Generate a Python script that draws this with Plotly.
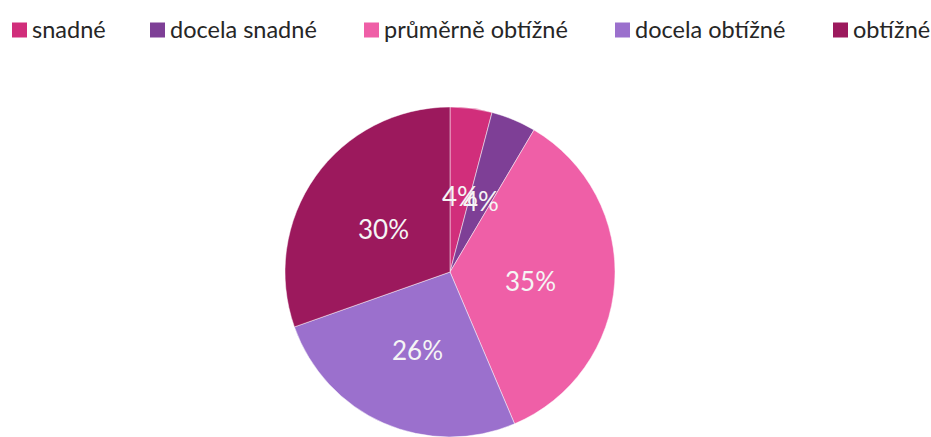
import math
import plotly.graph_objects as go

# ---- data ----
categories = ["snadné", "docela snadné", "průměrně obtížné", "docela obtížné", "obtížné"]
values = [4.1, 4.4, 35.1, 26.0, 30.4]
colors = ["#D12E7B", "#7E3F96", "#EF5FA7", "#9B70CD", "#9C195D"]

# ---- layout constants ----
W, H = 931, 437
CX, CY, R = 450, 272, 165
FONT = "Lato"
legend_sq_x = [12, 150, 364, 615, 833]
SQ = 15
LEG_Y = 30
LABEL_DY = 4

fig = go.Figure()
fig.add_trace(go.Pie(
    labels=categories, values=values, sort=False, direction="clockwise", rotation=0,
    marker=dict(colors=colors, line=dict(color="rgba(255,255,255,0.6)", width=0.8)),
    textinfo="none", hoverinfo="label+percent", showlegend=False,
    domain=dict(x=[(CX - R) / W, (CX + R) / W], y=[(H - CY - R) / H, (H - CY + R) / H]),
))

annotations = []
shapes = []
total = sum(values)
cum = 0.0
for v in values:
    mid = (cum + v / 2) / total * 2 * math.pi
    cum += v
    px = CX + 0.49 * R * math.sin(mid)
    py = CY + LABEL_DY - 0.49 * R * math.cos(mid)
    annotations.append(dict(
        x=px / W, y=1 - py / H, xref="paper", yref="paper", showarrow=False,
        text=f"{round(v / total * 100)}%", font=dict(family=FONT, size=26, color="#F5F5F5"),
        xanchor="center", yanchor="middle"))

for name, col, sx in zip(categories, colors, legend_sq_x):
    shapes.append(dict(type="rect", xref="paper", yref="paper",
                       x0=sx / W, x1=(sx + SQ) / W,
                       y0=1 - (LEG_Y + SQ / 2) / H, y1=1 - (LEG_Y - SQ / 2) / H,
                       fillcolor=col, line=dict(width=0)))
    annotations.append(dict(
        x=(sx + SQ + 3) / W, y=1 - (LEG_Y - 1) / H, xref="paper", yref="paper",
        showarrow=False, text=name, xanchor="left", yanchor="middle",
        font=dict(family=FONT, size=23.5, color="#262626")))

fig.update_layout(
    width=W, height=H, margin=dict(l=0, r=0, t=0, b=0),
    paper_bgcolor="white", plot_bgcolor="white",
    annotations=annotations, shapes=shapes,
)
fig.write_html("out.html", config={"displayModeBar": False},
               post_script="document.body.style.margin='0';document.body.style.overflow='hidden';")
